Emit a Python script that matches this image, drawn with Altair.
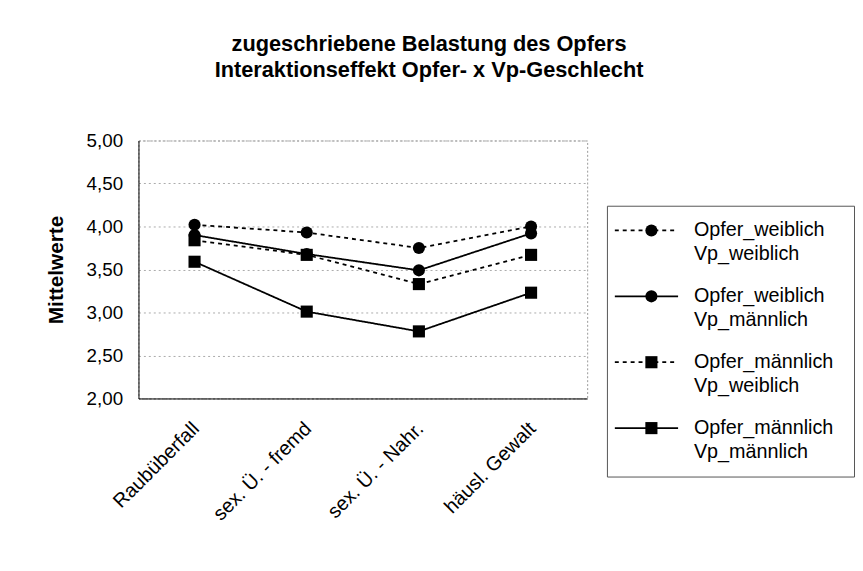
import altair as alt
import pandas as pd

categories = ["Raubüberfall", "sex. Ü. - fremd", "sex. Ü. - Nahr.", "häusl. Gewalt"]
series_names = [
    "Opfer_weiblich Vp_weiblich",
    "Opfer_weiblich Vp_männlich",
    "Opfer_männlich Vp_weiblich",
    "Opfer_männlich Vp_männlich",
]
series_line1 = ["Opfer_weiblich", "Opfer_weiblich", "Opfer_männlich", "Opfer_männlich"]
series_line2 = ["Vp_weiblich", "Vp_männlich", "Vp_weiblich", "Vp_männlich"]

values_w_w = [4.02, 3.93, 3.75, 4.00]
values_w_m = [3.90, 3.68, 3.49, 3.92]
values_m_w = [3.84, 3.67, 3.33, 3.67]
values_m_m = [3.59, 3.01, 2.78, 3.23]
all_values = [values_w_w, values_w_m, values_m_w, values_m_m]

y_ticks = [2.0, 2.5, 3.0, 3.5, 4.0, 4.5, 5.0]

FONT = "Liberation Sans"

rows = []
for s, vals in zip(series_names, all_values):
    for c, v in zip(categories, vals):
        rows.append({"series": s, "cat": c, "value": v})
df = pd.DataFrame(rows)

shape_scale = alt.Scale(domain=series_names, range=["circle", "circle", "square", "square"])
dash_scale = alt.Scale(domain=series_names, range=[[4, 4], [1, 0], [4, 4], [1, 0]])
size_scale = alt.Scale(domain=series_names, range=[150, 150, 225, 225])

W, H = 454, 261

x_enc = alt.X(
    "cat:N",
    sort=categories,
    scale=alt.Scale(type="point", padding=0.5),
    axis=alt.Axis(
        title=None,
        labelAngle=-45,
        labelAlign="right",
        labelBaseline="top",
        labelFontSize=20,
        labelFont=FONT,
        labelColor="black",
        labelPadding=20,
        labelOffset=-6,
        ticks=False,
        domainColor="black",
        grid=False,
    ),
)
y_enc = alt.Y(
    "value:Q",
    scale=alt.Scale(domain=[2, 5], zero=False, nice=False),
    axis=alt.Axis(
        title="Mittelwerte",
        titleFont=FONT,
        titleFontSize=21,
        titleFontWeight="bold",
        titleColor="black",
        titlePadding=20,
        values=y_ticks,
        labelExpr="replace(format(datum.value, '.2f'), '.', ',')",
        labelFontSize=19,
        labelFont=FONT,
        labelColor="black",
        labelPadding=16,
        labelOverlap=False,
        ticks=False,
        domainColor="black",
        grid=True,
        gridColor="#aaaaaa",
        gridDash=[2, 3],
        gridWidth=1,
    ),
)

base = alt.Chart(df)
lines = base.mark_line(color="black", strokeWidth=1.8).encode(
    x=x_enc,
    y=y_enc,
    detail="series:N",
    strokeDash=alt.StrokeDash("series:N", scale=dash_scale, legend=None),
)
points = base.mark_point(filled=True, color="black", opacity=1).encode(
    x=x_enc,
    y=y_enc,
    shape=alt.Shape("series:N", scale=shape_scale, legend=None),
    size=alt.Size("series:N", scale=size_scale, legend=None),
)
main = alt.layer(lines, points).properties(
    width=W,
    height=H,
    view=alt.ViewBackground(stroke="#999999", strokeDash=[2, 2], strokeWidth=1),
)

# legend panel
leg_df = pd.DataFrame({
    "series": series_names,
    "row": [0, 1, 2, 3],
    "line1": series_line1,
    "line2": series_line2,
})
LW, LH = 250, 274
ly = alt.Y("row:O", scale=alt.Scale(type="point", range=[25, 225], padding=0), axis=None)
leg_base = alt.Chart(leg_df)
leg_rules = leg_base.mark_rule(color="black", strokeWidth=1.8).encode(
    x=alt.value(8), x2=alt.value(72), y=ly,
    strokeDash=alt.StrokeDash("series:N", scale=dash_scale, legend=None),
)
leg_pts = leg_base.mark_point(filled=True, color="black", opacity=1).encode(
    x=alt.value(45), y=ly,
    shape=alt.Shape("series:N", scale=shape_scale, legend=None),
    size=alt.Size("series:N", scale=size_scale, legend=None),
)
leg_t1 = leg_base.mark_text(align="left", baseline="middle", font=FONT, fontSize=20, color="black").encode(
    x=alt.value(88), y=ly, text="line1:N"
)
leg_t2 = leg_base.mark_text(align="left", baseline="middle", font=FONT, fontSize=20, color="black", dy=24).encode(
    x=alt.value(88), y=ly, text="line2:N"
)
legend_box = alt.layer(leg_rules, leg_pts, leg_t1, leg_t2).properties(
    width=LW, height=LH,
    view=alt.ViewBackground(stroke="#555555", strokeWidth=1),
)
spacer = alt.Chart(pd.DataFrame({"a": [0]})).mark_point(opacity=0).encode(
    x=alt.X("a:Q", axis=None), y=alt.Y("a:Q", axis=None)
).properties(width=LW, height=64, view=alt.ViewBackground(stroke="transparent"))

legend_col = alt.vconcat(spacer, legend_box, spacing=0)

chart = alt.hconcat(main, legend_col, spacing=18).properties(
    title=alt.TitleParams(
        text=["zugeschriebene Belastung des Opfers", "Interaktionseffekt Opfer- x Vp-Geschlecht"],
        font=FONT,
        fontSize=22,
        fontWeight="bold",
        color="black",
        lineHeight=26,
        anchor="middle",
        offset=50,
        dx=-21,
    ),
    padding={"left": 37, "top": 22, "right": 0, "bottom": 0},
).configure(background="white")

chart.save("out.html", embed_options={"renderer": "svg", "actions": False})
